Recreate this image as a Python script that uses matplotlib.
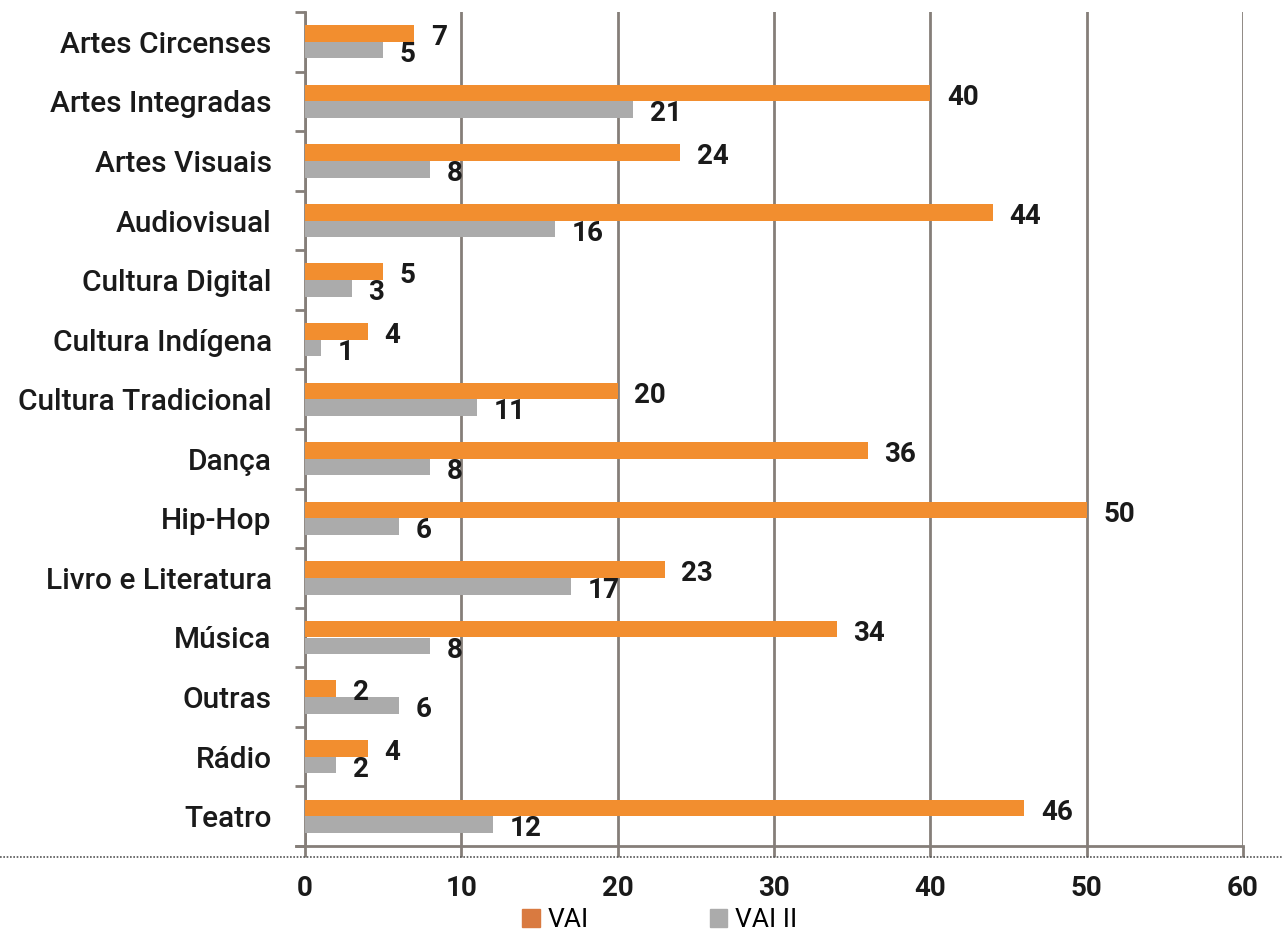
import matplotlib
matplotlib.use('Agg')
import matplotlib.pyplot as plt
import numpy as np
from matplotlib.patches import Patch
from matplotlib.lines import Line2D

categories = ['Artes Circenses', 'Artes Integradas', 'Artes Visuais', 'Audiovisual',
              'Cultura Digital', 'Cultura Indígena', 'Cultura Tradicional', 'Dança',
              'Hip-Hop', 'Livro e Literatura', 'Música', 'Outras', 'Rádio', 'Teatro']
vai = [7, 40, 24, 44, 5, 4, 20, 36, 50, 23, 34, 2, 4, 46]
vai2 = [5, 21, 8, 16, 3, 1, 11, 8, 6, 17, 8, 6, 2, 12]
xticks = [0, 10, 20, 30, 40, 50, 60]

orange = '#F28E2F'
gray = '#ABABAB'
grid_c = '#857E79'

plt.rcParams['font.family'] = ['Roboto', 'DejaVu Sans']

fig = plt.figure(figsize=(12.83, 9.35), dpi=100)
ax = fig.add_axes([305/1283, 1-846/935, (1243-305)/1283, (846-12)/935])

y = np.arange(len(categories))
h = 0.28
ax.barh(y - h/2, vai, height=h, color=orange, zorder=3)
ax.barh(y + h/2, vai2, height=h, color=gray, zorder=3)

for yi, v in zip(y, vai):
    ax.annotate(str(v), (v, yi - h/2), xytext=(12, -3), textcoords='offset points',
                ha='left', va='center', fontsize=20, fontweight='bold', color='#1a1a1a')
for yi, v in zip(y, vai2):
    ax.annotate(str(v), (v, yi + h/2), xytext=(12, -3), textcoords='offset points',
                ha='left', va='center', fontsize=20, fontweight='bold', color='#1a1a1a')

ax.set_ylim(len(categories) - 0.5, -0.5)
ax.set_xlim(0, 60)
ax.set_xticks(xticks)
ax.set_xticklabels([str(t) for t in xticks], fontsize=20, fontweight='bold', color='#1a1a1a')
ax.set_yticks(y)
ax.set_yticklabels(categories, fontsize=21.5, fontweight='medium', color='#1a1a1a')
ax.set_yticks(np.arange(len(categories) + 1) - 0.5, minor=True)
ax.tick_params(axis='y', which='major', length=0, pad=24)
ax.tick_params(axis='y', which='minor', length=7, width=2, color=grid_c)
ax.tick_params(axis='x', length=8, width=2, color=grid_c, pad=13)

ax.grid(axis='x', color=grid_c, lw=2, zorder=0)
for s in ['top', 'right']:
    ax.spines[s].set_visible(False)
ax.spines['left'].set_color(grid_c)
ax.spines['left'].set_linewidth(2)
ax.spines['bottom'].set_color(grid_c)
ax.spines['bottom'].set_linewidth(2)
ax.spines['bottom'].set_bounds(-0.6, 60)

# dotted rule across the page
fig.add_artist(Line2D([0, 1], [1-857/935, 1-857/935], transform=fig.transFigure,
                      color='#555555', lw=1.2, ls=(0, (1, 1))))

handles = [Patch(color='#D97A40', label='VAI'), Patch(color=gray, label='VAI II')]
fig.legend(handles=handles, loc='center', bbox_to_anchor=(660/1283, 1-920/935), ncol=2,
           frameon=False, fontsize=19, handlelength=0.65, handleheight=0.65,
           handletextpad=0.3, columnspacing=4.6, borderpad=0)

fig.savefig('out.png', dpi=100)
